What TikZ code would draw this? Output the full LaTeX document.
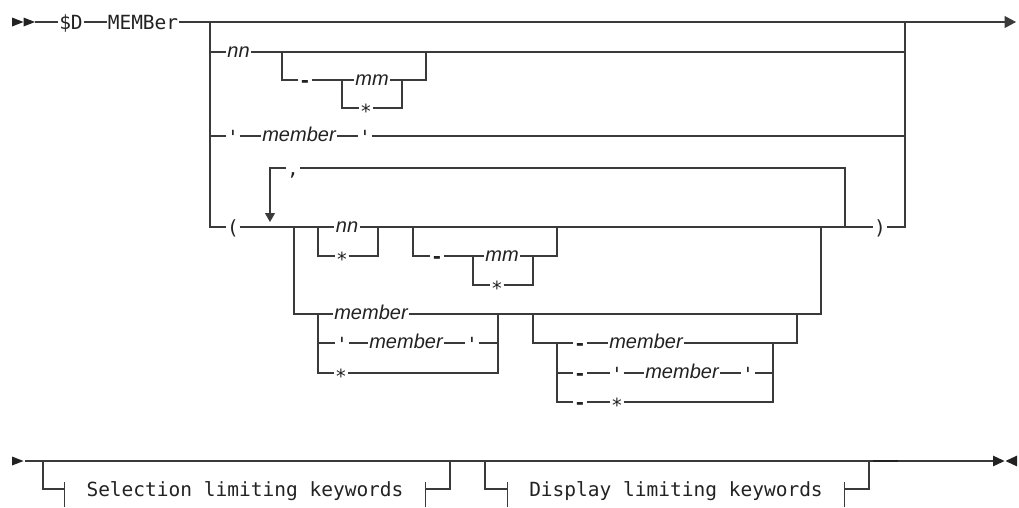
\documentclass[tikz,border=0pt]{standalone}
\usepackage{fontspec}
\setmonofont{DejaVu Sans Mono}
\setsansfont{Liberation Sans}
\usetikzlibrary{arrows.meta}
\definecolor{cink}{HTML}{222222}
\definecolor{crail}{HTML}{3A3A3A}
\newcommand\railstar{\raisebox{-3.5pt}{*}}
\newcommand\railhy{\textbf{-}}
\newcommand\railquote{\raisebox{-1.5pt}{'}}
\tikzset{
  rail/.style={draw=crail, line width=1.15pt},
  kw/.style={inner xsep=0.6pt, inner ysep=0pt, text=cink, font=\ttfamily\fontsize{19.5}{20}\selectfont, text height=15.6pt, text depth=1.6pt},
  var/.style={inner xsep=1.6pt, inner ysep=0pt, text=cink, font=\sffamily\itshape\fontsize{20}{20}\selectfont, text height=13.8pt, text depth=3.4pt},
  frag/.style={kw, inner xsep=0pt},
  exitarr/.style={rail, -{Triangle[length=11.5pt, width=12pt]}},
  looparr/.style={rail, -{Triangle[length=9pt, width=10pt]}},
  tri/.pic={\fill[cink] (0,-4.5) -- (11.5,0) -- (0,4.5) -- cycle;},
}

\begin{document}
\begin{tikzpicture}[x=1pt,y=-1pt]
\useasboundingbox (0,0) rectangle (1019,507);
% first line
\pic at (12,22) {tri};
\pic at (23.5,22) {tri};
\coordinate (go) at (35,22);
\node[kw] (dd) at (71,22) {\$D};
\node[kw] (memb) at (143,22) {MEMBer};
\coordinate (fa) at (210,22);
\coordinate (fb) at (905,22);
\coordinate (stop) at (1016,22);
\draw[rail] (go) -- (dd) -- (memb) -- (fa) -- (fb);
\draw[exitarr] (fb) -- (stop);

\node[var] (nn) at (238.5,52) {nn};
\node[kw] (qa) at (233,136) {\railquote};
\node[var] (mema) at (299,136) {member};
\node[kw] (qb) at (365,136) {\railquote};
\node[kw] (lp) at (233,227) {(};
\node[kw] (rp) at (880,227) {)};
\draw[rail] (fa) |- (lp);
\draw[rail] (fb) |- (rp);
\draw[rail] (fa) |- (nn) -- (nn -| fb);
\draw[rail] (fa) |- (qa) -- (mema) -- (qb) -- (qb -| fb);

% nn [- mm|*]
\coordinate (oa) at (282,52);
\coordinate (ob) at (426,52);
\coordinate (ca) at (342,80);
\coordinate (cb) at (402,80);
\node[kw] (ha) at (305,80) {\railhy};
\node[var] (mmb) at (372,80) {mm};
\node[kw] (sa) at (366,108) {\railstar};
\draw[rail] (oa) |- (ha) -- (ca) -- (mmb) -- (cb) -| (ob);
\draw[rail] (ca) |- (sa) -| (cb);

% repeat group
\coordinate (lin) at (270,222);
\coordinate (re) at (845,227);
\node[kw] (comma) at (293,168) {,};
\draw[rail] (re) |- (comma);
\draw[looparr] (comma) -| (lin);

\coordinate (ja) at (294,227);
\coordinate (cc) at (318,227);
\coordinate (cd) at (378,227);
\coordinate (oc) at (413,227);
\coordinate (od) at (557,227);
\coordinate (jb) at (821,227);
\node[var] (nnb) at (347,227) {nn};
\node[kw] (sb) at (342,256) {\railstar};
\node[kw] (hb) at (437,256) {\railhy};
\node[var] (mmc) at (502,256) {mm};
\node[kw] (sc) at (497,285) {\railstar};
\coordinate (ce) at (473,256);
\coordinate (cf) at (533,256);
\draw[rail] (lp) -- (ja) -- (cc) -- (nnb) -- (cd) -- (oc) -- (od) -- (jb) -- (re) -- (rp);
\draw[rail] (cc) |- (sb) -| (cd);
\draw[rail] (oc) |- (hb) -- (ce) -- (mmc) -- (cf) -| (od);
\draw[rail] (ce) |- (sc) -| (cf);

\coordinate (cg) at (318,314);
\coordinate (ch) at (498,314);
\coordinate (oe) at (533,314);
\coordinate (of) at (797,314);
\node[var] (memc) at (371,314) {member};
\node[kw] (qc) at (342,343) {\railquote};
\node[var] (memd) at (406,343) {member};
\node[kw] (qd) at (472,343) {\railquote};
\node[kw] (sd) at (341,373) {\railstar};
\draw[rail] (ja) |- (cg) -- (memc) -- (ch) -- (oe) -- (of) -| (jb);
\draw[rail] (cg) |- (qc) -- (memd) -- (qd) -| (ch);
\draw[rail] (cg) |- (sd) -| (ch);

\coordinate (ci) at (557,343);
\coordinate (cj) at (773,343);
\node[kw] (hc) at (580,343) {\railhy};
\node[var] (meme) at (646,343) {member};
\node[kw] (hd) at (580,373) {\railhy};
\node[kw] (qe) at (617,373) {\railquote};
\node[var] (memf) at (682,373) {member};
\node[kw] (qf) at (748,373) {\railquote};
\node[kw] (he) at (580,402) {\railhy};
\node[kw] (se) at (617,402) {\railstar};
\draw[rail] (oe) |- (hc) -- (meme) -- (cj) -| (of);
\draw[rail] (ci) |- (hd) -- (qe) -- (memf) -- (qf) -| (cj);
\draw[rail] (ci) |- (he) -- (se) -| (cj);

% second line
\pic at (12,461) {tri};
\coordinate (go2) at (25,461);
\coordinate (ga) at (43,461);
\coordinate (gb) at (450,461);
\coordinate (gc) at (485,461);
\coordinate (gd) at (869,461);
\coordinate (ge) at (993,461);
\node[frag, minimum width=360pt] (sel) at (245,489) {Selection limiting keywords};
\node[frag, minimum width=336pt] (disp) at (676,489) {Display limiting keywords};
\draw[rail] (go2) -- (ga) -- (gb) -- (gc) -- (gd) -- (ge);
\draw[rail] (ga) |- (sel.west);
\draw[rail] (sel.east) -| (gb);
\draw[rail] (gc) |- (disp.west);
\draw[rail] (disp.east) -| (gd);
\foreach \f in {sel.west, sel.east, disp.west, disp.east}
  \draw[rail] ([yshift=7pt]\f) -- ([yshift=-18pt]\f);
\draw[draw=cink, line width=2.2pt] (873,461) -- (898,461);
\pic[yscale=1.2] at (ge) {tri};
\pic[xscale=-1, yscale=1.2] at (1017,461) {tri};
\end{tikzpicture}
\end{document}
